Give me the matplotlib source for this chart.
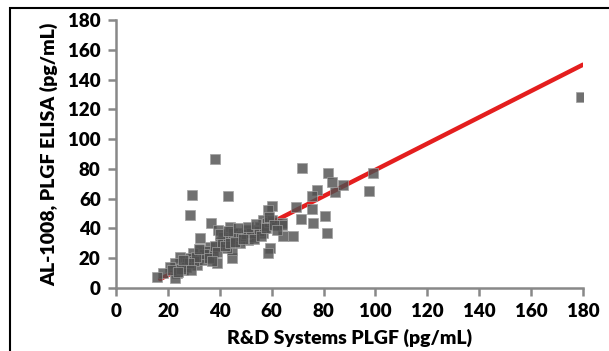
import matplotlib
matplotlib.use("Agg")
import matplotlib.pyplot as plt
from matplotlib.patches import Rectangle

plt.rcParams['font.family'] = ['Lato', 'DejaVu Sans']

# R&D Systems PLGF (x) vs AL-1008 PLGF ELISA (y)
rd_x = [38.2, 29.3, 43.2, 28.5, 71.7, 81.7, 99.0, 97.5, 83.3, 84.4, 87.5, 77.5,
        75.6, 69.4, 75.6, 71.3, 76.0, 80.6, 81.3, 64.0, 68.2, 64.4, 179.3,
        36.6, 32.4, 60.0, 58.6, 56.7, 55.5, 63.9, 59.4, 58.6, 56.7, 50.4, 51.0,
        44.6, 44.6, 38.8, 39.4, 44.0, 45.9, 47.8, 40.1, 36.2, 32.4, 29.8, 28.5,
        31.1, 24.7, 22.7, 20.8, 23.4, 18.2, 15.9, 22.7, 35.0, 37.5, 33.5, 27.2,
        26.0, 21.4, 41.4, 42.7, 47.8, 52.9, 54.2, 58.1,
        35, 38, 41, 43, 45, 48, 50, 52, 55, 57, 59, 60, 33, 34, 30, 31, 27, 28,
        25, 24, 36, 39, 42, 44, 46, 49, 53, 56, 37, 26, 29, 32, 40, 43, 47, 51,
        54, 58, 59, 61, 62]
elisa_y = [86.6, 62.5, 61.8, 49.0, 80.6, 77.0, 77.0, 65.0, 71.0, 64.5, 69.0, 65.8,
           61.8, 54.4, 53.0, 46.3, 43.6, 48.4, 37.0, 43.6, 35.0, 35.0, 128.3,
           43.4, 33.4, 55.0, 52.4, 45.7, 41.0, 42.3, 26.6, 23.3, 37.0, 39.0, 32.0,
           20.0, 25.5, 16.6, 39.0, 41.2, 34.5, 30.0, 30.0, 27.7, 25.5, 23.3, 20.0,
           15.4, 21.0, 16.6, 14.3, 9.8, 9.8, 7.6, 6.5, 21.0, 23.3, 22.0, 16.6,
           12.0, 12.0, 34.5, 26.6, 36.7, 34.5, 39.0, 43.4,
           25, 28, 31, 33, 37, 35, 36, 37, 38, 40, 44, 46, 19, 23, 18, 21, 14, 17,
           13, 11, 20, 24, 28, 30, 31, 33, 33, 35, 18, 19, 12, 26, 36, 38, 40, 41,
           43, 40, 48, 42, 39]

fit_x = [17, 180]
fit_y = [6, 150]

x_ticks = [0, 20, 40, 60, 80, 100, 120, 140, 160, 180]
y_ticks = [0, 20, 40, 60, 80, 100, 120, 140, 160, 180]

W, H = 609, 351
fig = plt.figure(figsize=(W / 100, H / 100), dpi=100)
fig.patches.append(Rectangle((10 / W, -0.1), 1.2, (H - 8) / H + 0.1,
                             transform=fig.transFigure, fill=False,
                             edgecolor='black', linewidth=1.5))

ax = fig.add_axes([116 / W, 1 - 288 / H, (583 - 116) / W, (288 - 20) / H])
ax.plot(fit_x, fit_y, color='#e41e1e', linewidth=3.2, solid_capstyle='round', zorder=2)
ax.scatter(rd_x, elisa_y, marker='s', s=62, color='#505050', alpha=0.82,
           edgecolors='#a0a0a0', linewidths=0.6, zorder=3)

ax.set_xlim(0, 180)
ax.set_ylim(0, 180)
ax.set_xticks(x_ticks)
ax.set_yticks(y_ticks)
for s in ['top', 'right']:
    ax.spines[s].set_visible(False)
for s in ['left', 'bottom']:
    ax.spines[s].set_color('#888888')
    ax.spines[s].set_linewidth(1.8)
ax.tick_params(direction='out', length=6, width=1.8, color='#888888',
               labelsize=13.5, pad=5)
for lab in ax.get_xticklabels() + ax.get_yticklabels():
    lab.set_fontweight('heavy')
ax.set_xlabel('R&D Systems PLGF (pg/mL)', fontsize=14, fontweight='heavy', labelpad=6)
ax.set_ylabel('AL-1008, PLGF ELISA (pg/mL)', fontsize=14, fontweight='heavy', labelpad=7)
ax.set_facecolor('none')
fig.savefig('out.png', dpi=100)
